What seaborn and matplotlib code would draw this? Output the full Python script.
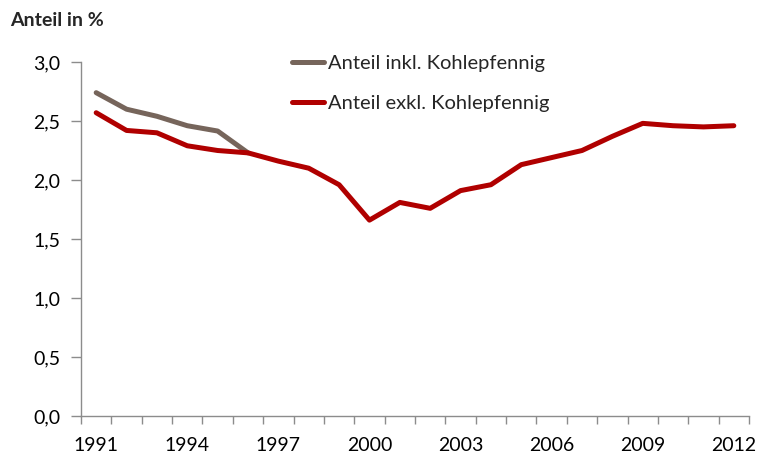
import matplotlib
matplotlib.use("Agg")
import matplotlib.pyplot as plt
import matplotlib.ticker as mticker
import numpy as np
import pandas as pd
import seaborn as sns

years = list(range(1991, 2013))
anteil_inkl = [2.74, 2.60, 2.54, 2.46, 2.415, 2.23] + [np.nan] * 16
anteil_exkl = [2.57, 2.42, 2.40, 2.29, 2.25, 2.23, 2.16, 2.10, 1.96, 1.66,
               1.81, 1.76, 1.91, 1.96, 2.13, 2.19, 2.25, 2.37, 2.48, 2.46,
               2.45, 2.46]
series_names = ["Anteil inkl. Kohlepfennig", "Anteil exkl. Kohlepfennig"]
series_colors = ["#76655B", "#B00000"]
year_ticks = [1991, 1994, 1997, 2000, 2003, 2006, 2009, 2012]
y_ticks = [0.0, 0.5, 1.0, 1.5, 2.0, 2.5, 3.0]

sns.set_theme(style="white")
plt.rcParams["font.family"] = ["Lato", "DejaVu Sans"]

df = pd.DataFrame({
    "Jahr": years * 2,
    "Anteil": anteil_inkl + anteil_exkl,
    "Reihe": [series_names[0]] * len(years) + [series_names[1]] * len(years),
})

fig = plt.figure(figsize=(7.6, 4.59), dpi=100)
ax = fig.add_axes([81 / 760, 1 - 416 / 459, (749 - 81) / 760, (416 - 62) / 459])

sns.lineplot(data=df, x="Jahr", y="Anteil", hue="Reihe",
             palette=dict(zip(series_names, series_colors)),
             hue_order=series_names, linewidth=3.6, ax=ax, legend=False,
             solid_capstyle="round", solid_joinstyle="round")

ax.set_xlim(1990.5, 2012.5)
ax.set_ylim(0, 3.0)
ax.set_xlabel("")
ax.set_ylabel("")

ax.set_xticks(year_ticks)
ax.set_xticks(np.arange(1990.5, 2013.0, 1.0), minor=True)
ax.tick_params(axis="x", which="major", length=0, pad=15, labelsize=14,
               labelcolor="#000000")
ax.tick_params(axis="x", which="minor", length=6, width=1, color="#8C8C8C",
               direction="out", bottom=True)
ax.set_yticks(y_ticks)
ax.yaxis.set_major_formatter(mticker.FuncFormatter(
    lambda v, p: f"{v:.1f}".replace(".", ",")))
ax.tick_params(axis="y", which="major", length=7, width=1, color="#8C8C8C",
               direction="out", left=True, pad=8, labelsize=14,
               labelcolor="#000000")

for side in ["top", "right"]:
    ax.spines[side].set_visible(False)
for side in ["left", "bottom"]:
    ax.spines[side].set_color("#8C8C8C")
    ax.spines[side].set_linewidth(1.0)

# legend entries drawn as short lines with labels
handles = [plt.Line2D([], [], color=c, linewidth=3.6, solid_capstyle="round")
           for c in series_colors]
fig.legend(handles, series_names, loc="upper left",
           bbox_to_anchor=(284 / 760, 1 - 47 / 459), frameon=False,
           fontsize=14.5, handlelength=1.6, handletextpad=0.2,
           labelspacing=1.15, borderaxespad=0)

fig.text(10 / 760, 1 - 21 / 459, "Anteil in %", fontsize=14,
         fontweight="bold", ha="left", va="center")

fig.savefig("out.png", dpi=100)
